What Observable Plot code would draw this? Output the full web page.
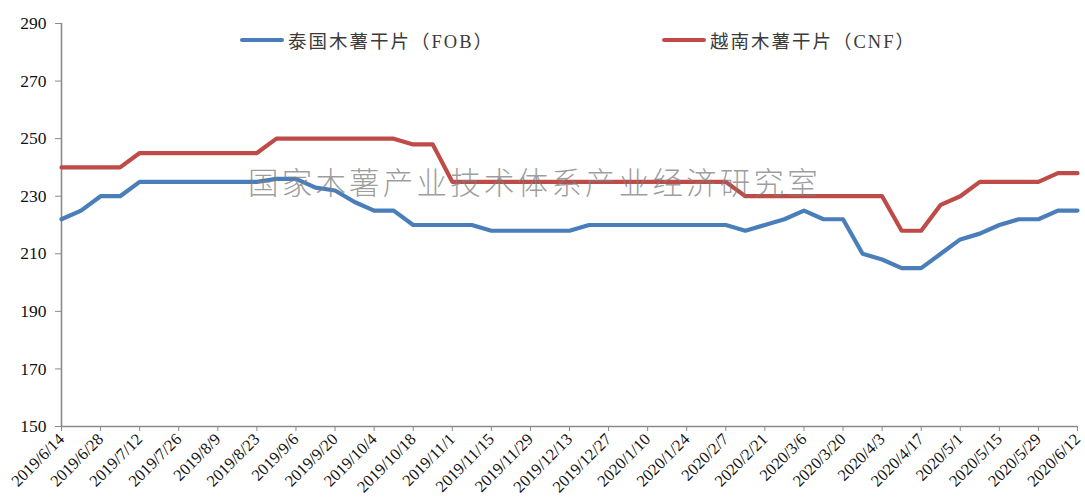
<!DOCTYPE html>
<html>
<head>
<meta charset="utf-8">
<script src="https://cdn.jsdelivr.net/npm/d3@7"></script>
<script src="https://cdn.jsdelivr.net/npm/@observablehq/plot@0.6"></script>
<style>
  html, body { margin: 0; padding: 0; background: #fff; }
  #wrap { position: relative; width: 1085px; height: 498px; overflow: hidden; }
  #wrap svg text { font-family: "Liberation Serif", "Times New Roman", serif !important; }
  .legend { position: absolute; top: 27px; display: flex; align-items: center;
            font-family: "Liberation Serif", "Noto Sans CJK SC", serif; font-size: 18.5px; color: #3a3a3a; white-space: nowrap; }
  .legend .txt { letter-spacing: 2px; }
  .legend .sw { display: inline-block; width: 44px; height: 4.5px; border-radius: 3px; margin-right: 4px; }
  #wm { position: absolute; left: 248px; top: 159px; font-family: "Noto Sans CJK SC", sans-serif; font-weight: 300;
        font-size: 30.5px; letter-spacing: 3.2px; color: rgba(125,125,125,0.75); white-space: nowrap; pointer-events: none; }
</style>
</head>
<body>
<div id="wrap"></div>
<script>
const dates = [
  "2019-06-14","2019-06-21","2019-06-28","2019-07-05","2019-07-12","2019-07-19","2019-07-26","2019-08-02","2019-08-09","2019-08-16",
  "2019-08-23","2019-08-30","2019-09-06","2019-09-13","2019-09-20","2019-09-27","2019-10-04","2019-10-11","2019-10-18","2019-10-25",
  "2019-11-01","2019-11-08","2019-11-15","2019-11-22","2019-11-29","2019-12-06","2019-12-13","2019-12-20","2019-12-27","2020-01-03",
  "2020-01-10","2020-01-17","2020-01-24","2020-01-31","2020-02-07","2020-02-14","2020-02-21","2020-02-28","2020-03-06","2020-03-13",
  "2020-03-20","2020-03-27","2020-04-03","2020-04-10","2020-04-17","2020-04-24","2020-05-01","2020-05-08","2020-05-15","2020-05-22",
  "2020-05-29","2020-06-05","2020-06-12"
];
const thaiFOB = [
  222,225,230,230,235,235,235,235,235,235,
  235,236,236,233,232,228,225,225,220,220,
  220,220,218,218,218,218,218,220,220,220,
  220,220,220,220,220,218,220,222,225,222,
  222,210,208,205,205,210,215,217,220,222,
  222,225,225
];
const vietCNF = [
  240,240,240,240,245,245,245,245,245,245,
  245,250,250,250,250,250,250,250,248,248,
  235,235,235,235,235,235,235,235,235,235,
  235,235,235,235,235,230,230,230,230,230,
  230,230,230,218,218,227,230,235,235,235,
  235,238,238
];
const seriesNames = ["泰国木薯干片（FOB）", "越南木薯干片（CNF）"];
const seriesColors = ["#4A7EBB", "#BE4B48"];
const yTicks = [150,170,190,210,230,250,270,290];
const watermark = "国家木薯产业技术体系产业经济研究室";

const parse = d3.utcParse("%Y-%m-%d");
const dd = dates.map(parse);
const xTicks = dd.filter((d, i) => i % 2 === 0);
const fmt = d => `${d.getUTCFullYear()}/${d.getUTCMonth() + 1}/${d.getUTCDate()}`;

const data = [];
dd.forEach((d, i) => {
  data.push({date: d, value: thaiFOB[i], s: seriesNames[0]});
  data.push({date: d, value: vietCNF[i], s: seriesNames[1]});
});

const axisColor = "#8a8a8a";
const serif = "'Liberation Serif', 'Times New Roman', serif";
const chart = Plot.plot({
  width: 1085,
  height: 498,
  marginLeft: 61,
  marginRight: 8,
  marginTop: 23,
  marginBottom: 72,
  style: {fontFamily: serif, color: "#111", background: "#fff", overflow: "visible"},
  x: {type: "utc", domain: [dd[0], dd[dd.length - 1]]},
  y: {domain: [150, 290]},
  color: {domain: seriesNames, range: seriesColors},
  marks: [
    Plot.axisY({ticks: yTicks, tickSize: 6, tickPadding: 9, label: null, fontSize: 17.5, fontFamily: serif, stroke: axisColor, fill: "#111"}),
    Plot.axisX({ticks: xTicks, tickFormat: fmt, tickRotate: -45, tickSize: 5, tickPadding: 5, label: null, fontSize: 16.5, fontFamily: serif, stroke: axisColor, fill: "#111"}),
    Plot.ruleY([150], {stroke: axisColor, strokeWidth: 1.6}),
    Plot.ruleX([dd[0]], {stroke: axisColor, strokeWidth: 1.6}),
    Plot.line(data, {x: "date", y: "value", z: "s", stroke: "s", strokeWidth: 4.2, strokeLinejoin: "round", strokeLinecap: "round"})
  ]
});
const wrap = document.getElementById("wrap");
wrap.appendChild(chart);

const legendPos = [240, 662];
seriesNames.forEach((n, i) => {
  const el = document.createElement("div");
  el.className = "legend";
  el.style.left = legendPos[i] + "px";
  el.innerHTML = `<span class="sw" style="background:${seriesColors[i]}"></span><span class="txt">${n}</span>`;
  wrap.appendChild(el);
});
const wm = document.createElement("div");
wm.id = "wm";
wm.textContent = watermark;
wrap.appendChild(wm);
</script>
</body>
</html>
